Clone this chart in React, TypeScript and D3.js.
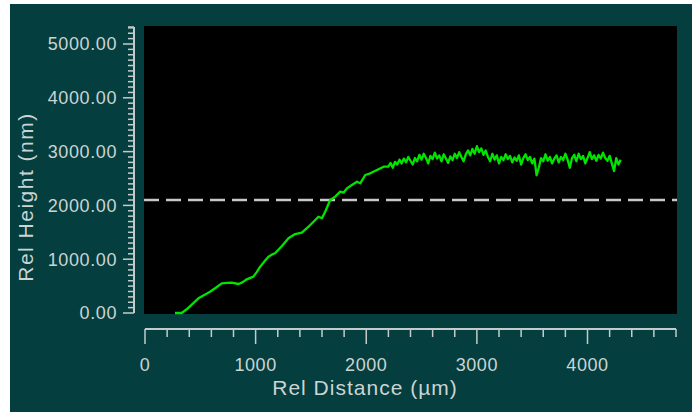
import React from "react";
import * as d3 from "d3";

// Rising part of the profile (distance µm, height nm)
const riseX = [271, 332, 377, 430, 483, 540, 588, 640, 694, 740, 784, 845, 880, 920, 980, 1010, 1041, 1080, 1116, 1150, 1176, 1240, 1297, 1357, 1418, 1478, 1523, 1568, 1599, 1629, 1674, 1719, 1765, 1795, 1825, 1870, 1916, 1946, 1991, 2036, 2097, 2157];
const riseY = [0, 0, 69, 170, 273, 340, 396, 470, 552, 560, 563, 539, 570, 626, 675, 760, 861, 960, 1046, 1090, 1110, 1250, 1388, 1468, 1493, 1604, 1697, 1790, 1760, 1883, 2100, 2162, 2255, 2236, 2317, 2379, 2441, 2410, 2565, 2596, 2658, 2720];

// Plateau part, sampled every 20 µm from 2200 to 4300
const plateauStart = 2200;
const plateauStep = 20;
const plateauY = [
  2720, 2790, 2700, 2810, 2760, 2850, 2780, 2870, 2800, 2900,
  2830, 2760, 2880, 2820, 2940, 2850, 2960, 2880, 2780, 2920,
  2860, 2980, 2870, 2930, 2820, 2950, 2870, 2790, 2910, 2840,
  2960, 2880, 2990, 2900, 2820, 2950, 3020, 2930, 3050, 2960,
  3100, 2990, 3060, 2940, 3020, 2900, 2820, 2960, 2850, 2930,
  2780, 2900, 2840, 2950, 2860, 2920, 2800, 2890, 2830, 2930,
  2760, 2880, 2950, 2840, 2900, 2780, 2870, 2560, 2700, 2880,
  2820, 2950, 2830, 2900, 2780, 2870, 2930, 2800, 2900, 2840,
  2960, 2850, 2700, 2880, 2940, 2820, 2960, 2860, 2920, 2780,
  2880, 2990, 2860, 2930, 2830, 2940, 2870, 2980, 2880, 2830,
  2920, 2780, 2640, 2880, 2760, 2850,
];

const thresholdY = 2100;
const yTickValues = [0, 1000, 2000, 3000, 4000, 5000];
const xTickValues = [0, 1000, 2000, 3000, 4000];
const xTitle = "Rel Distance (µm)";
const yTitle = "Rel Height (nm)";

export default function App() {
  const W = 696, H = 415;
  const plotL = 144, plotR = 677, plotT = 26, plotB = 314;
  const x = d3.scaleLinear().domain([0, 4800]).range([145, 676]);
  const y = d3.scaleLinear().domain([0, 5000]).range([313, 44]);
  const yTop = y.invert(27);

  const pts: [number, number][] = [];
  riseX.forEach((v, i) => pts.push([v, riseY[i]]));
  plateauY.forEach((v, i) => pts.push([plateauStart + i * plateauStep, v]));
  const line = d3.line<[number, number]>().x((d) => x(d[0])).y((d) => y(d[1]));

  const yAxisX = 134;
  const xAxisY = 329;
  const yMinor = d3.range(0, yTop, 100);
  const xMinor = d3.range(0, 4801, 200);

  const textColor = "#cbd4d3";
  const axisColor = "#c4cccb";
  const font = "'Liberation Sans', Arial, sans-serif";

  return (
    <svg width={W} height={H} style={{ position: "absolute", left: 0, top: 0, background: "#ffffff" }}>
      <rect x={10} y={4} width={682} height={408} fill="#043e3e" />
      <rect x={plotL} y={plotT} width={plotR - plotL} height={plotB - plotT} fill="#000000" />
      {/* threshold dashed line */}
      <line x1={plotL} x2={plotR} y1={y(thresholdY)} y2={y(thresholdY)} stroke="#c8c8c8" strokeWidth={2.5} strokeDasharray="15 7" />
      {/* profile */}
      <path d={line(pts) || ""} fill="none" stroke="#00e400" strokeWidth={2.3} strokeLinejoin="round" />
      {/* y axis */}
      <line x1={yAxisX} x2={yAxisX} y1={27} y2={y(0)} stroke={axisColor} strokeWidth={2} />
      {yMinor.map((v) => {
        const major = v % 1000 === 0;
        return (
          <line key={"ym" + v} x1={major ? yAxisX - 11 : yAxisX - 6} x2={yAxisX} y1={y(v)} y2={y(v)} stroke={axisColor} strokeWidth={1.5} />
        );
      })}
      <line x1={yAxisX - 6} x2={yAxisX} y1={27} y2={27} stroke={axisColor} strokeWidth={1.5} />
      {yTickValues.map((v) => (
        <text key={"yl" + v} x={117} y={y(v)} dy="0.36em" textAnchor="end" fill={textColor} fontFamily={font} fontSize={18} letterSpacing={0.6}>
          {v.toFixed(2)}
        </text>
      ))}
      <text transform={`translate(33,${197}) rotate(-90)`} textAnchor="middle" fill={textColor} fontFamily={font} fontSize={21} letterSpacing={1.5}>
        {yTitle}
      </text>
      {/* x axis */}
      <line x1={x(0)} x2={x(4800)} y1={xAxisY} y2={xAxisY} stroke={axisColor} strokeWidth={2} />
      {xMinor.map((v) => {
        const major = v % 1000 === 0;
        return (
          <line key={"xm" + v} x1={x(v)} x2={x(v)} y1={xAxisY} y2={major ? xAxisY + 15 : xAxisY + 8} stroke={axisColor} strokeWidth={1.5} />
        );
      })}
      {xTickValues.map((v) => (
        <text key={"xl" + v} x={x(v)} y={365} dy="0.36em" textAnchor="middle" fill={textColor} fontFamily={font} fontSize={18} letterSpacing={0.6}>
          {String(v)}
        </text>
      ))}
      <text x={365} y={395} textAnchor="middle" fill={textColor} fontFamily={font} fontSize={21} letterSpacing={1}>
        {xTitle}
      </text>
    </svg>
  );
}
